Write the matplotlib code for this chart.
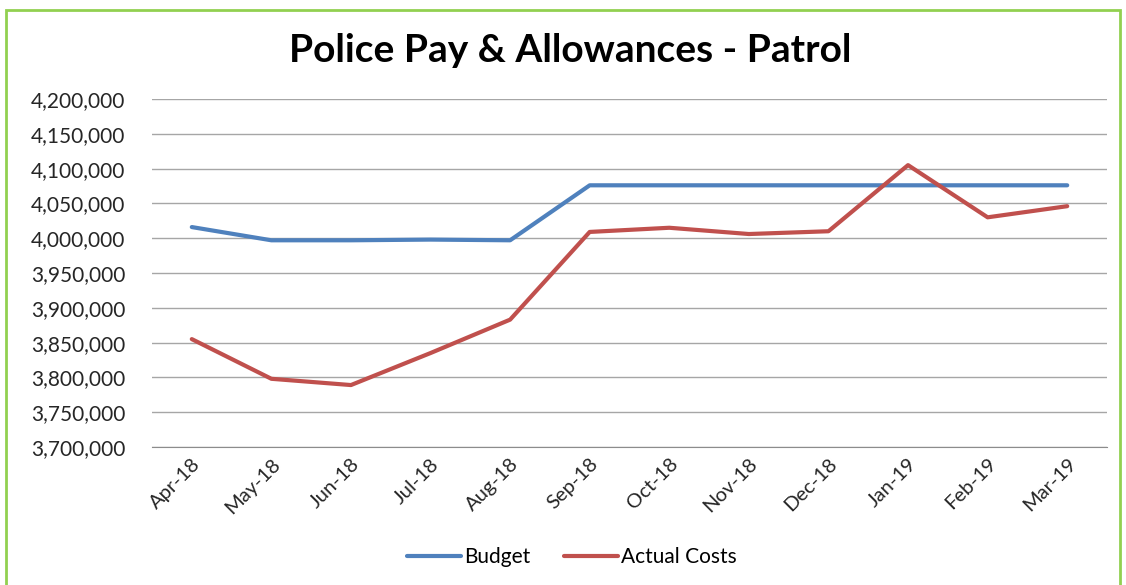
import numpy as np
import matplotlib.pyplot as plt
import matplotlib.patches as patches
from matplotlib.ticker import FuncFormatter

# data
months = ['Apr-18', 'May-18', 'Jun-18', 'Jul-18', 'Aug-18', 'Sep-18',
          'Oct-18', 'Nov-18', 'Dec-18', 'Jan-19', 'Feb-19', 'Mar-19']
budget = [4016000, 3997000, 3997000, 3998000, 3997000, 4076000,
          4076000, 4076000, 4076000, 4076000, 4076000, 4076000]
actual = [3855000, 3798000, 3789000, 3835000, 3883000, 4009000,
          4015000, 4006000, 4010000, 4105000, 4030000, 4046000]

plt.rcParams['font.family'] = ['Lato', 'DejaVu Sans']

fig = plt.figure(figsize=(11.26, 5.85), dpi=100)
ax = fig.add_axes([152/1126, 1-447/585, (1107-152)/1126, (447-99)/585])

x = np.arange(len(months))
ax.plot(x, budget, color='#4F81BD', lw=3, label='Budget', solid_capstyle='round')
ax.plot(x, actual, color='#C0504D', lw=3, label='Actual Costs', solid_capstyle='round')

ax.set_ylim(3700000, 4200000)
ax.set_yticks(np.arange(3700000, 4200001, 50000))
ax.yaxis.set_major_formatter(FuncFormatter(lambda v, p: f'{int(v):,}'))
ax.set_xlim(-0.5, len(months) - 0.5)
ax.set_xticks(x)
ax.set_xticklabels(months, rotation=45, ha='right', rotation_mode='anchor')

ax.grid(axis='y', color='#A6A6A6', lw=1)
ax.set_axisbelow(True)
for s in ['top', 'right', 'left']:
    ax.spines[s].set_visible(False)
ax.spines['bottom'].set_color('#8C8C8C')
ax.tick_params(axis='y', length=0, pad=19, labelsize=15, labelcolor='#262626')
ax.tick_params(axis='x', length=0, pad=6, labelsize=14.5, labelcolor='#262626')

fig.text(570/1126, 1-50/585, 'Police Pay & Allowances - Patrol', ha='center', va='center',
         fontsize=28, fontweight='bold')

fig.legend(loc='center', bbox_to_anchor=(572/1126, 1-557/585), ncol=2, frameon=False,
           fontsize=15, handlelength=2.6, handletextpad=0.15, columnspacing=1.6)

# green frame around the chart area
fig.patches.append(patches.Rectangle((6/1126, -0.05), (1120-6)/1126, 1.05-10/585,
                                     transform=fig.transFigure, fill=False,
                                     edgecolor='#92D050', lw=2))

fig.savefig('out.png', dpi=100)
